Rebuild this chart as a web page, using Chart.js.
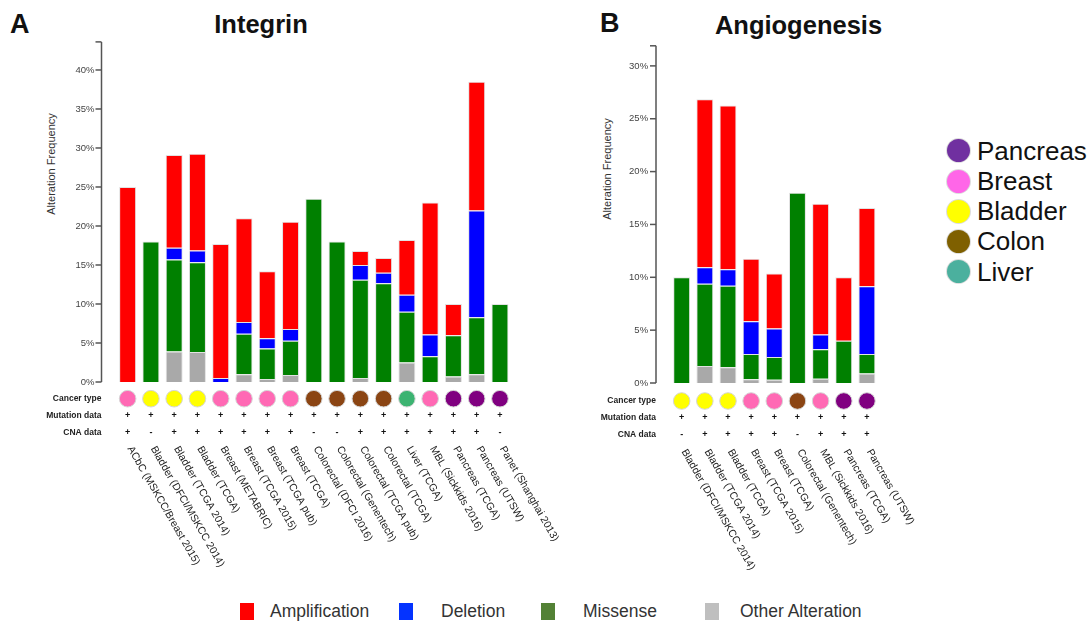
<!DOCTYPE html>
<html lang="en">
<head>
  <meta charset="UTF-8" />
  <title>Integrin / Angiogenesis alteration frequency</title>
  <script src="https://cdn.jsdelivr.net/npm/chart.js"></script>
  <style>
    body {
      margin: 0;
      width: 1091px;
      height: 622px;
      overflow: hidden;
      background: #fff;
      font-family: 'Liberation Sans', Arial, sans-serif;
      color: #111;
      position: relative;
    }
    canvas { position: absolute; top: 0; }
    .abs { position: absolute; white-space: nowrap; line-height: 1; }
    .panel { font-weight: bold; font-size: 27px; }
    .title { font-weight: bold; font-size: 25.5px; width: 240px; text-align: center; }
    .ytitle { font-size: 11px; color: #333; transform: translate(-50%, -50%) rotate(-90deg); }
    .type-item { display: flex; align-items: center; height: 26px; font-size: 26px; }
    .type-item span { width: 23px; height: 23px; border-radius: 50%; margin-right: 7px; box-shadow: 0 0 0 1px #ddd; }
    .alt-box { width: 14px; height: 17px; top: 603px; }
    .alt-text { font-size: 17.5px; color: #333; top: 603px; line-height: 17px; }
  </style>
</head>
<body>

  <div class="abs panel" style="left:10px; top:10.6px;">A</div>
  <div class="abs panel" style="left:600px; top:9.8px;">B</div>
  <div class="abs title" style="left:141px; top:11.9px;">Integrin</div>
  <div class="abs title" style="left:678.5px; top:13.4px;">Angiogenesis</div>
  <div class="abs ytitle" style="left:50.5px; top:164px;">Alteration Frequency</div>
  <div class="abs ytitle" style="left:606.7px; top:169px;">Alteration Frequency</div>

  <canvas id="chartA" width="560" height="580" style="left:0;"></canvas>
  <canvas id="chartB" width="360" height="580" style="left:560px;"></canvas>

  <!-- cancer type legend -->
  <div id="typeLegend"></div>

  <!-- alteration legend -->
  <div class="abs alt-box" style="left:240px; background:#ff0000;"></div>
  <div class="abs alt-text" style="left:270px;">Amplification</div>
  <div class="abs alt-box" style="left:399px; background:#0433ff;"></div>
  <div class="abs alt-text" style="left:441px;">Deletion</div>
  <div class="abs alt-box" style="left:541px; background:#538135;"></div>
  <div class="abs alt-text" style="left:583px;">Missense</div>
  <div class="abs alt-box" style="left:705px; background:#bfbfbf;"></div>
  <div class="abs alt-text" style="left:740px;">Other Alteration</div>

  <script>
    // ---- data: panel A (Integrin) ----
    const studiesA = ['ACbC (MSKCC/Breast 2015)', 'Bladder (DFCI/MSKCC 2014)', 'Bladder (TCGA 2014)', 'Bladder (TCGA)',
      'Breast (METABRIC)', 'Breast (TCGA 2015)', 'Breast (TCGA pub)', 'Breast (TCGA)', 'Colorectal (DFCI 2016)',
      'Colorectal (Genentech)', 'Colorectal (TCGA pub)', 'Colorectal (TCGA)', 'Liver (TCGA)', 'MBL (Sickkids 2016)',
      'Pancreas (TCGA)', 'Pancreas (UTSW)', 'Panet (Shanghai 2013)'];
    const otherA    = [0, 0, 3.9, 3.85, 0, 1.0, 0.4, 0.9, 0, 0, 0.5, 0, 2.5, 0, 0.7, 1.0, 0];
    const missenseA = [0, 18, 11.8, 11.5, 0, 5.2, 3.9, 4.4, 23.5, 18, 12.6, 12.65, 6.5, 3.3, 5.3, 7.3, 10];
    const deletionA = [0, 0, 1.5, 1.5, 0.5, 1.5, 1.3, 1.5, 0, 0, 1.9, 1.35, 2.2, 2.8, 0, 13.7, 0];
    const ampA      = [25, 0, 11.9, 12.4, 17.2, 13.3, 8.6, 13.75, 0, 0, 1.8, 1.9, 7.0, 16.9, 4.0, 16.5, 0];
    const typesA = ['Breast', 'Bladder', 'Bladder', 'Bladder', 'Breast', 'Breast', 'Breast', 'Breast', 'Colon',
      'Colon', 'Colon', 'Colon', 'Liver', 'Breast', 'Pancreas', 'Pancreas', 'Pancreas'];
    const mutationA = ['+', '+', '+', '+', '+', '+', '+', '+', '+', '+', '+', '+', '+', '+', '+', '+', '+'];
    const cnaA      = ['+', '-', '+', '+', '+', '+', '+', '+', '-', '-', '+', '+', '+', '+', '+', '+', '-'];

    // ---- data: panel B (Angiogenesis) ----
    const studiesB = ['Bladder (DFCI/MSKCC 2014)', 'Bladder (TCGA 2014)', 'Bladder (TCGA)', 'Breast (TCGA 2015)',
      'Breast (TCGA)', 'Colorectal (Genentech)', 'MBL (Sickkids 2016)', 'Pancreas (TCGA)', 'Pancreas (UTSW)'];
    const otherB    = [0, 1.6, 1.5, 0.35, 0.3, 0, 0.4, 0, 0.9];
    const missenseB = [10, 7.8, 7.7, 2.4, 2.15, 18, 2.8, 4, 1.85];
    const deletionB = [0, 1.55, 1.55, 3.1, 2.7, 0, 1.4, 0, 6.4];
    const ampB      = [0, 15.9, 15.5, 5.9, 5.2, 0, 12.35, 6, 7.4];
    const typesB = ['Bladder', 'Bladder', 'Bladder', 'Breast', 'Breast', 'Colon', 'Breast', 'Pancreas', 'Pancreas'];
    const mutationB = ['+', '+', '+', '+', '+', '+', '+', '+', '+'];
    const cnaB      = ['-', '+', '+', '+', '+', '-', '+', '+', '+'];

    // legend on the right
    const legendTypes = ['Pancreas', 'Breast', 'Bladder', 'Colon', 'Liver'];
    const legendColors = ['#7030a0', '#ff66e8', '#ffff00', '#7f6000', '#4bb09e'];

    const typeColor = { Breast: '#ff69b4', Bladder: '#ffff00', Colon: '#8b4513', Liver: '#3cb371', Pancreas: '#800080' };
    const FONT = '"Liberation Sans", Arial, sans-serif';

    const legendEl = document.getElementById('typeLegend');
    legendTypes.forEach((name, i) => {
      const d = document.createElement('div');
      d.className = 'abs type-item';
      d.style.left = '947px';
      d.style.top = (150.8 + 30.2 * i - 13) + 'px';
      d.innerHTML = '<span style="background:' + legendColors[i] + '"></span>' + name;
      legendEl.appendChild(d);
    });

    // draws the offset y axis line, the track rows and the slanted study names
    const annotate = {
      id: 'annotate',
      afterDraw(chart, args, opts) {
        const { ctx, chartArea } = chart;
        const xs = chart.scales.x, ys = chart.scales.y;
        const ax = chartArea.left - opts.gap;
        ctx.save();
        ctx.strokeStyle = '#555';
        ctx.lineWidth = 1.5;
        ctx.beginPath();
        ctx.moveTo(ax, chartArea.top);
        ctx.lineTo(ax, chartArea.bottom);
        ctx.stroke();
        const marks = ys.ticks.map(t => ys.getPixelForValue(t.value)).concat([chartArea.top]);
        marks.forEach(y => {
          ctx.beginPath();
          ctx.moveTo(ax - 6, y);
          ctx.lineTo(ax, y);
          ctx.stroke();
        });

        ctx.fillStyle = '#222';
        ctx.font = 'bold 8.5px ' + FONT;
        ctx.textAlign = 'right';
        ctx.textBaseline = 'middle';
        ['Cancer type', 'Mutation data', 'CNA data'].forEach((t, k) => ctx.fillText(t, ax, opts.rows[k]));

        chart.data.labels.forEach((lab, i) => {
          const x = xs.getPixelForValue(i);
          ctx.beginPath();
          ctx.arc(x, opts.rows[0], 8.3, 0, Math.PI * 2);
          ctx.fillStyle = typeColor[opts.types[i]];
          ctx.fill();
          ctx.strokeStyle = '#d5d5d5';
          ctx.lineWidth = 1;
          ctx.stroke();

          ctx.fillStyle = '#111';
          ctx.font = 'bold 9px ' + FONT;
          ctx.textAlign = 'center';
          ctx.fillText(opts.mut[i], x, opts.rows[1]);
          ctx.fillText(opts.cna[i], x, opts.rows[2]);

          ctx.save();
          ctx.translate(x + 2, opts.labelY);
          ctx.rotate(Math.PI / 3);
          ctx.textAlign = 'left';
          ctx.font = '10.5px ' + FONT;
          ctx.fillStyle = '#222';
          ctx.fillText(lab, 0, 0);
          ctx.restore();
        });
        ctx.restore();
      }
    };

    function makeChart(id, labels, other, missense, deletion, amp, cfg) {
      const seg = (label, data, color) => ({
        label, data, backgroundColor: color,
        borderColor: '#e2e2e2', borderWidth: 1,
        barPercentage: 0.73, categoryPercentage: 1
      });
      return new Chart(document.getElementById(id), {
        type: 'bar',
        data: {
          labels: labels,
          datasets: [
            seg('Other Alteration', other, '#a9a9a9'),
            seg('Missense', missense, '#008000'),
            seg('Deletion', deletion, '#0000ff'),
            seg('Amplification', amp, '#ff0000')
          ]
        },
        options: {
          responsive: false,
          animation: false,
          layout: { padding: { left: 0, right: cfg.right, top: cfg.top, bottom: cfg.bottom } },
          plugins: {
            legend: { display: false },
            tooltip: { enabled: false },
            annotate: cfg.annotate
          },
          scales: {
            x: { stacked: true, display: false },
            y: {
              stacked: true,
              min: 0,
              max: cfg.max,
              afterFit: s => { s.width = cfg.axisWidth; },
              grid: { display: false, drawTicks: false },
              border: { display: false },
              ticks: {
                stepSize: 5,
                includeBounds: false,
                padding: cfg.tickPad,
                color: '#444',
                font: { size: 9.5, family: FONT },
                callback: v => v + '%'
              }
            }
          }
        },
        plugins: [annotate]
      });
    }

    makeChart('chartA', studiesA, otherA, missenseA, deletionA, ampA, {
      max: 43.6, axisWidth: 116, right: 48.4, top: 41.9, bottom: 198, tickPad: 21.5,
      annotate: { gap: 14.5, rows: [398.7, 415.7, 432.7], labelY: 447, types: typesA, mut: mutationA, cna: cnaA }
    });

    makeChart('chartB', studiesB, otherB, missenseB, deletionB, ampB, {
      max: 31.9, axisWidth: 110.1, right: 41.5, top: 45.8, bottom: 197, tickPad: 22,
      annotate: { gap: 14.1, rows: [401, 417.7, 434.3], labelY: 450, types: typesB, mut: mutationB, cna: cnaB }
    });
  </script>
</body>
</html>
